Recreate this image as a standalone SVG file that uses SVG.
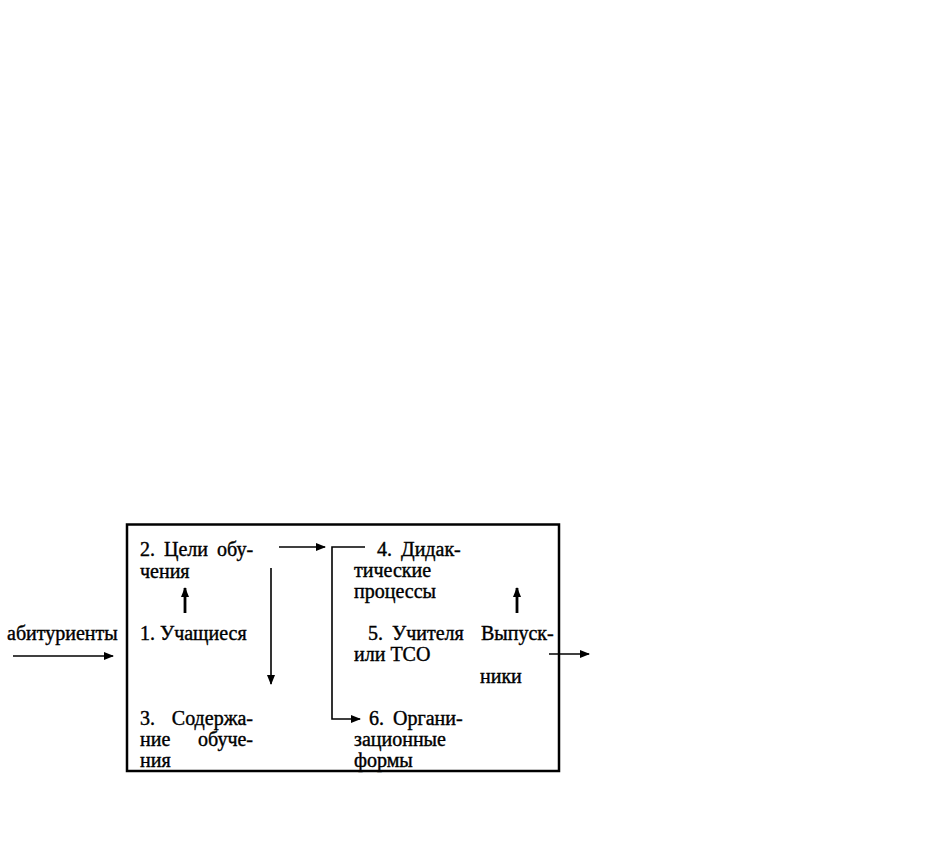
<svg xmlns="http://www.w3.org/2000/svg" width="936" height="852" viewBox="0 0 936 852">
<defs>
<style>
.t{font-family:'Liberation Serif','DejaVu Serif',serif;font-size:20px;fill:#000;stroke:#000;stroke-width:0.4}
.ws{word-spacing:4px}
.ln{stroke:#000;stroke-width:1.6;fill:none}
.thick{stroke:#000;stroke-width:2.8;fill:none}
</style>
<marker id="ah" markerWidth="10" markerHeight="8" refX="9" refY="4" orient="auto" markerUnits="userSpaceOnUse">
<path d="M0,0 L10,4 L0,8 Z" fill="#000"/>
</marker>
</defs>
<rect width="936" height="852" fill="#fff"/>
<g id="system">
<rect x="127" y="524.5" width="432" height="246.5" fill="none" stroke="#000" stroke-width="2.5"/>
</g>
<g id="n-abiturienty"><text class="t" x="7" y="640">абитуриенты</text></g>
<g id="n2"><text class="t ws" x="140" y="556">2. Цели обу-</text><text class="t" x="140" y="578">чения</text></g>
<g id="n1"><text class="t" x="140" y="640">1. Учащиеся</text></g>
<g id="n3"><text class="t" x="140" y="725">3.</text><text class="t" x="253" y="725" text-anchor="end">Содержа-</text><text class="t" x="140" y="746">ние</text><text class="t" x="253" y="746" text-anchor="end">обуче-</text><text class="t" x="140" y="767">ния</text></g>
<g id="n4"><text class="t ws" x="377" y="556">4. Дидак-</text><text class="t" x="354" y="577">тические</text><text class="t" x="354" y="598">процессы</text></g>
<g id="n5"><text class="t ws" x="368" y="640">5. Учителя</text><text class="t" x="354" y="661">или ТСО</text></g>
<g id="n-vypuskniki"><text class="t" x="481" y="640">Выпуск-</text><text class="t" x="480" y="683">ники</text></g>
<g id="n6"><text class="t ws" x="369" y="725">6. Органи-</text><text class="t" x="354" y="746">зационные</text><text class="t" x="354" y="767">формы</text></g>
<g id="connectors">
<line class="ln" x1="13" y1="656" x2="113" y2="656" marker-end="url(#ah)"/>
<line class="thick" x1="185" y1="613" x2="185" y2="588" marker-end="url(#ah)"/>
<line class="ln" x1="271" y1="568" x2="271" y2="684" marker-end="url(#ah)"/>
<line class="ln" x1="279" y1="547" x2="325" y2="547" marker-end="url(#ah)"/>
<polyline class="ln" points="365,547 332,547 332,719 360,719" marker-end="url(#ah)"/>
<line class="thick" x1="517" y1="613" x2="517" y2="588" marker-end="url(#ah)"/>
<line class="ln" x1="549" y1="654" x2="589" y2="654" marker-end="url(#ah)"/>
</g>
</svg>
